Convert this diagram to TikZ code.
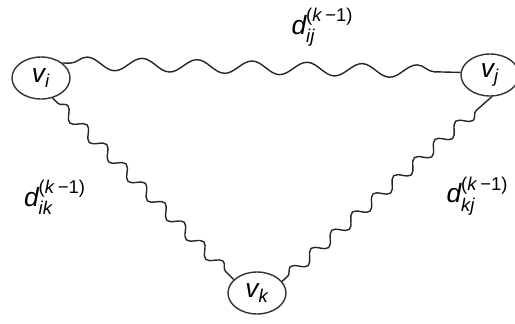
\documentclass[tikz,border=0pt]{standalone}
\usepackage{amsmath}
\usepackage{fontspec}
\setmainfont{Liberation Sans}
\usetikzlibrary{shapes.geometric,decorations.pathmorphing}
\tikzset{
      vertex/.style={
        ellipse,
        draw=black!80,
        line width=0.8pt,
        minimum width=1.16cm,
        minimum height=0.84cm,
        inner sep=0pt,
        font=\fontsize{15}{17}\selectfont
      },
      pathlong/.style={
        draw=black!85,
        line width=0.8pt,
        decorate,
        decoration={snake,segment length=1.1cm,amplitude=0.13cm,pre length=0.15cm,post length=0.15cm}
      },
      pathshort/.style={
        draw=black!85,
        line width=0.8pt,
        decorate,
        decoration={snake,segment length=0.55cm,amplitude=0.11cm,pre length=0.15cm,post length=0.15cm}
      },
      weight/.style={
        font=\fontsize{15}{17}\selectfont
      }
    }
\newcommand{\kminus}{\text{(\textit{k}\,−1)}}

\begin{document}
\begin{tikzpicture}[x=1cm,y=1cm]
    \useasboundingbox (0,0) rectangle (10.3,-6.46);
    \node[vertex] (vi) at (0.82,-1.56) {$\mathit{v}_{\mathit{i}}$};
    \node[vertex] (vj) at (9.8,-1.5) {$\mathit{v}_{\mathit{j}}$};
    \node[vertex] (vk) at (5.14,-5.86) {$\mathit{v}_{\mathit{k}}$};
    \draw[pathlong] (vi.35) -- (vj.175);
    \draw[pathshort] (vi.-60) -- (vk.150);
    \draw[pathshort] (vk.25) -- (vj.-85);
    \node[weight] (dij) at (6.45,-0.55) {$\mathit{d}_{\mathit{ij}}^{\kminus}$};
    \node[weight] (dik) at (1.1,-3.95) {$\mathit{d}_{\mathit{ik}}^{\kminus}$};
    \node[weight] (dkj) at (9.55,-3.92) {$\mathit{d}_{\mathit{kj}}^{\kminus}$};
    \end{tikzpicture}
\end{document}
